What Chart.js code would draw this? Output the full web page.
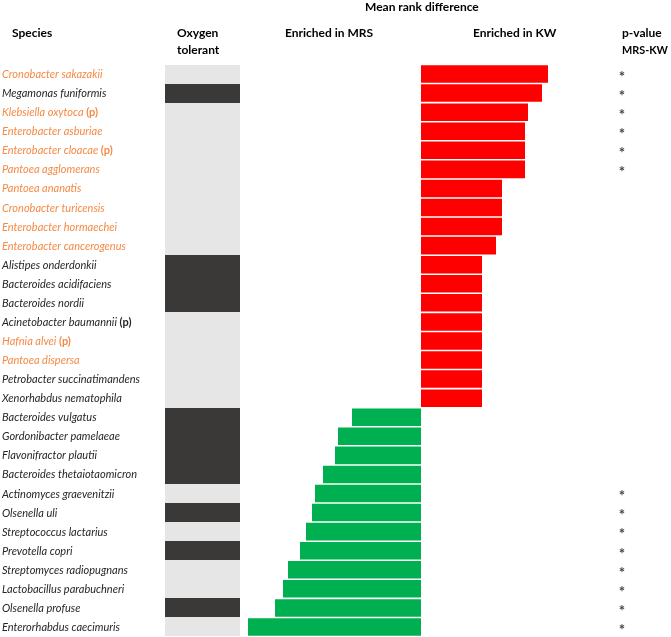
<!DOCTYPE html>
<html>
<head>
<meta charset="utf-8">
<script src="https://cdn.jsdelivr.net/npm/chart.js@4/dist/chart.umd.min.js"></script>
<style>
html,body{margin:0;padding:0;background:#fff;}
#wrap{width:671px;height:637px;position:relative;}
</style>
</head>
<body>
<div id="wrap"><canvas id="c" width="671" height="637"></canvas></div>
<script>
// ---- data ----
const species = [
  "Cronobacter sakazakii","Megamonas funiformis","Klebsiella oxytoca","Enterobacter asburiae",
  "Enterobacter cloacae","Pantoea agglomerans","Pantoea ananatis","Cronobacter turicensis",
  "Enterobacter hormaechei","Enterobacter cancerogenus","Alistipes onderdonkii","Bacteroides acidifaciens",
  "Bacteroides nordii","Acinetobacter baumannii","Hafnia alvei","Pantoea dispersa",
  "Petrobacter succinatimandens","Xenorhabdus nematophila","Bacteroides vulgatus","Gordonibacter pamelaeae",
  "Flavonifractor plautii","Bacteroides thetaiotaomicron","Actinomyces graevenitzii","Olsenella uli",
  "Streptococcus lactarius","Prevotella copri","Streptomyces radiopugnans","Lactobacillus parabuchneri",
  "Olsenella profuse","Enterorhabdus caecimuris"
];
const meanRankDiff = [
  127, 121, 107, 104, 104, 104, 81, 81, 81, 75,
  61, 61, 61, 61, 61, 61, 61, 61,
  -69, -83, -86, -98, -106, -109, -115, -121, -133, -138, -146, -173
];
// 1 = oxygen tolerant (light), 0 = not tolerant (dark)
const oxygenTolerant = [
  1,0,1,1,1,1,1,1,1,1,
  0,0,0,1,1,1,1,1,
  0,0,0,0,1,0,1,0,1,1,0,1
];
// 1 = highlighted (orange) species name
const highlighted = [
  1,0,1,1,1,1,1,1,1,1,
  0,0,0,0,1,1,0,0,
  0,0,0,0,0,0,0,0,0,0,0,0
];
// 1 = "(p)" marker
const pMarker = [
  0,0,1,0,1,0,0,0,0,0,
  0,0,0,1,1,0,0,0,
  0,0,0,0,0,0,0,0,0,0,0,0
];
// p-value MRS-KW significance
const pSignificant = [
  1,1,1,1,1,1,0,0,0,0,
  0,0,0,0,0,0,0,0,
  0,0,0,0,1,1,1,1,1,1,1,1
];
const headerLabels = ["Species", "Oxygen|tolerant", "Enriched in MRS", "Enriched in KW", "p-value|MRS-KW", "Mean rank difference"];

// ---- style ----
const RED = "#ff0000", GREEN = "#00b050", ORANGE = "#f58a45", BLACK = "#262626";
const LIGHT = "#e7e6e6", DARK = "#3b3838";
const FONT = "Lato, 'Open Sans', sans-serif";

const overlay = {
  id: "overlay",
  afterDraw(chart) {
    const ctx = chart.ctx;
    const y = chart.scales.y;
    const pitch = Math.abs(y.getPixelForValue(1) - y.getPixelForValue(0));
    ctx.save();
    // oxygen column
    const colL = 165, colR = 240;
    species.forEach((s, i) => {
      const cy = y.getPixelForValue(i);
      ctx.fillStyle = oxygenTolerant[i] ? LIGHT : DARK;
      ctx.fillRect(colL, Math.round(cy - pitch / 2), colR - colL, Math.round(cy + pitch / 2) - Math.round(cy - pitch / 2));
    });
    // species labels
    ctx.textBaseline = "middle";
    ctx.textAlign = "left";
    species.forEach((s, i) => {
      const cy = y.getPixelForValue(i) + 0.5;
      const col = highlighted[i] ? ORANGE : BLACK;
      ctx.fillStyle = col;
      ctx.font = "italic 11px " + FONT;
      ctx.fillText(s, 2, cy);
      if (pMarker[i]) {
        const w = ctx.measureText(s + " ").width;
        ctx.font = "bold 11px " + FONT;
        ctx.fillText("(p)", 2 + w, cy);
      }
    });
    // asterisks
    ctx.fillStyle = "#444";
    ctx.font = "bold 15px " + FONT;
    ctx.textAlign = "center";
    species.forEach((s, i) => {
      if (pSignificant[i]) ctx.fillText("*", 622, y.getPixelForValue(i) + 3);
    });
    // headers
    ctx.fillStyle = "#000";
    ctx.font = "bold 12px " + FONT;
    ctx.textAlign = "left";
    const put = (txt, x, yy, mw) => {
      txt.split("|").forEach((line, k) => {
        if (mw) ctx.fillText(line, x, yy + k * 17, mw);
        else ctx.fillText(line, x, yy + k * 17);
      });
    };
    put(headerLabels[0], 12, 33);
    put(headerLabels[1], 177, 33);
    put(headerLabels[2], 285, 33);
    put(headerLabels[3], 473, 33);
    put(headerLabels[4], 622, 33, 46);
    put(headerLabels[5], 365, 7);
    ctx.restore();
  }
};

new Chart(document.getElementById("c"), {
  type: "bar",
  data: {
    labels: species,
    datasets: [{
      label: "Mean rank difference",
      data: meanRankDiff,
      backgroundColor: meanRankDiff.map(v => v >= 0 ? RED : GREEN),
      borderWidth: 0,
      barPercentage: 0.92,
      categoryPercentage: 1.0
    }]
  },
  options: {
    indexAxis: "y",
    responsive: false,
    animation: false,
    layout: { padding: { left: 240, right: 111, top: 64.5, bottom: 0.5 } },
    plugins: { legend: { display: false }, tooltip: { enabled: false } },
    scales: {
      x: { display: false, min: -181, max: 139 },
      y: { display: false }
    }
  },
  plugins: [overlay]
});
</script>
</body>
</html>
